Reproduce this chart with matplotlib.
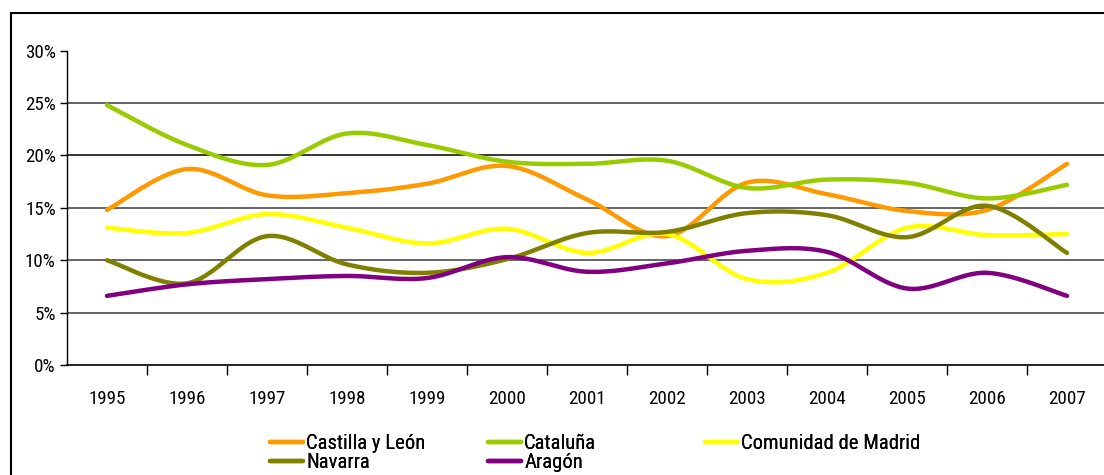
import numpy as np
import matplotlib
matplotlib.use('Agg')
import matplotlib.pyplot as plt
from matplotlib import font_manager
from matplotlib.font_manager import FontProperties
from matplotlib.textpath import TextPath
from matplotlib.patches import Rectangle
from matplotlib.ticker import PercentFormatter

# fuente estrecha parecida a Arial Narrow (la primera que este instalada)
preferidas = ['Liberation Sans Narrow', 'Arial Narrow', 'Roboto Condensed', 'Fira Sans Condensed',
              'IBM Plex Sans Condensed', 'Encode Sans Condensed', 'Asap Condensed', 'DejaVu Sans']
fuente = None
for nombre in preferidas:
    for f in font_manager.fontManager.ttflist:
        if (f.name == nombre and f.style == 'normal' and f.weight in (400, 'normal', 'regular')
                and '[' not in f.fname and (nombre != 'DejaVu Sans' or f.stretch == 'condensed')):
            fuente = f
            break
    if fuente:
        break
plt.rcParams['font.family'] = [fuente.name, 'DejaVu Sans']
plt.rcParams['font.stretch'] = fuente.stretch
prop = FontProperties(family=plt.rcParams['font.family'], stretch=fuente.stretch)


def tam_para(texto, ancho_px):
    # tamano de letra con el que el texto ocupa ancho_px pixeles
    w = TextPath((0, 0), texto, size=10, prop=prop).get_extents().width * 100 / 72
    return 10 * ancho_px / w


fs_tick = tam_para('1995', 32) * 1.1
fs_leg = tam_para('Castilla y León', 108) * 1.08

# datos (% sobre el total)
years = ['1995', '1996', '1997', '1998', '1999', '2000', '2001',
         '2002', '2003', '2004', '2005', '2006', '2007']
castilla = [14.8, 18.7, 16.2, 16.4, 17.3, 19.0, 15.8, 12.3, 17.4, 16.3, 14.7, 14.8, 19.2]
cataluna = [24.8, 21.0, 19.1, 22.1, 21.0, 19.4, 19.2, 19.5, 16.9, 17.7, 17.4, 15.9, 17.2]
madrid = [13.1, 12.6, 14.4, 13.1, 11.6, 13.0, 10.7, 12.5, 8.2, 8.8, 13.1, 12.4, 12.5]
navarra = [10.0, 7.8, 12.3, 9.6, 8.8, 10.1, 12.6, 12.7, 14.5, 14.3, 12.2, 15.2, 10.7]
aragon = [6.6, 7.7, 8.2, 8.5, 8.3, 10.3, 8.9, 9.7, 10.9, 10.8, 7.3, 8.8, 6.6]


def suavizar(y, n=30):
    # curva bezier tipo Excel que pasa por todos los puntos
    y = np.asarray(y, dtype=float)
    x = np.arange(len(y), dtype=float)
    p = np.column_stack([x, y])
    p = np.vstack([p[0], p, p[-1]])
    t = np.linspace(0, 1, n)[:, None]
    out = []
    for i in range(1, len(p) - 2):
        p0, p3 = p[i], p[i + 1]
        c1 = p0 + (p[i + 1] - p[i - 1]) / 6
        c2 = p3 - (p[i + 2] - p[i]) / 6
        seg = ((1 - t) ** 3) * p0 + 3 * ((1 - t) ** 2) * t * c1 + 3 * (1 - t) * t ** 2 * c2 + t ** 3 * p3
        out.append(seg)
    out = np.vstack(out)
    return out[:, 0], out[:, 1]


fig = plt.figure(figsize=(11.04, 4.75), dpi=100)
ax = fig.add_axes([67 / 1104, 110 / 475, 1040 / 1104, 314.3 / 475])

series = {
    'Castilla y León': (castilla, '#FF9900'),
    'Cataluña': (cataluna, '#99CC00'),
    'Comunidad de Madrid': (madrid, '#FFFF00'),
    'Navarra': (navarra, '#808000'),
    'Aragón': (aragon, '#800080'),
}
lineas = {}
for nombre, (vals, col) in series.items():
    xs, ys = suavizar(vals)
    ln, = ax.plot(xs, ys, color=col, lw=3.2, solid_capstyle='round', label=nombre, zorder=3)
    lineas[nombre] = ln

ax.set_xlim(-0.5, len(years) - 0.5)
ax.set_ylim(0, 30)
ax.set_yticks([0, 5, 10, 15, 20, 25, 30])
ax.yaxis.set_major_formatter(PercentFormatter(decimals=0))
for v in [5, 10, 15, 20, 25]:
    ax.axhline(v, color='#000000' if v == 20 else '#3a3a3a', lw=1.1, zorder=1)

ax.set_xticks(range(len(years)))
ax.set_xticklabels(years)
ax.set_xticks(np.arange(0.5, len(years) - 0.5, 1), minor=True)
ax.tick_params(axis='x', which='major', length=0, pad=18, labelsize=fs_tick)
ax.tick_params(axis='x', which='minor', length=7, width=1, direction='out', color='black')
ax.tick_params(axis='y', length=5, width=1, pad=3, labelsize=fs_tick)

for s in ['top', 'right']:
    ax.spines[s].set_visible(False)
ax.spines['left'].set_linewidth(1)
ax.spines['bottom'].set_linewidth(1.2)

# leyenda en tres columnas, como en el original
columnas = [(['Castilla y León', 'Navarra'], 270),
            (['Cataluña', 'Aragón'], 488),
            (['Comunidad de Madrid'], 705)]
for nombres, x0 in columnas:
    leg = fig.legend([lineas[n] for n in nombres], nombres,
                     loc='upper left', bbox_to_anchor=(x0 / 1104, 1 - 434 / 475),
                     frameon=False, fontsize=fs_leg, handlelength=33 / (fs_leg * 100 / 72),
                     handletextpad=0.15, labelspacing=0.0,
                     borderpad=0, borderaxespad=0)
    fig.add_artist(leg)

# marco del grafico
fig.patches.append(Rectangle((11 / 1104, -0.1), 1.2, 1 - 12.7 / 475 + 0.1,
                             transform=fig.transFigure, fill=False,
                             edgecolor='black', lw=1.5, zorder=0))

fig.savefig('out.png', dpi=100)
